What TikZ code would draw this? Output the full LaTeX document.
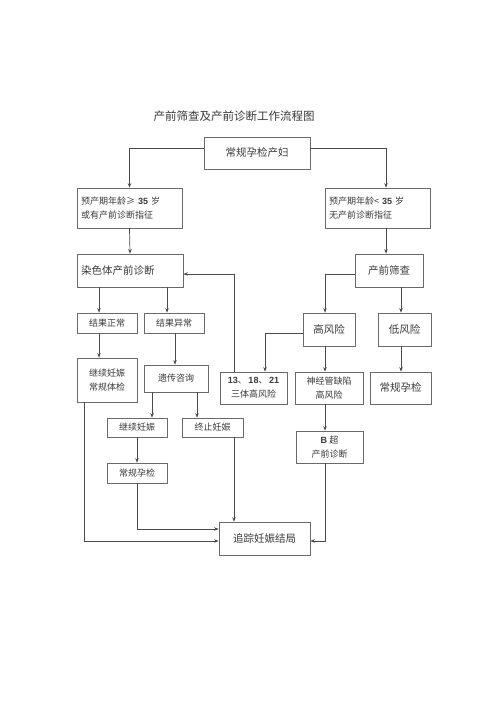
\documentclass[tikz,border=0pt]{standalone}
\usepackage{fontspec}
\setmainfont{Noto Sans CJK SC}
\newfontfamily\lat{Liberation Sans}
\usetikzlibrary{arrows.meta}
\definecolor{lc}{HTML}{4A4A4A}
\definecolor{bc}{HTML}{6A6A6A}
\definecolor{tc}{HTML}{3A3A3A}
\newcommand{\dg}[1]{{\lat\bfseries #1}}
\begin{document}
\begin{tikzpicture}[x=1pt,y=-1pt,
  box/.style={draw=bc,line width=0.7pt,inner sep=0pt,text=tc,align=center,font=\fontsize{9}{14}\selectfont},
  big/.style={font=\fontsize{10.5}{14}\selectfont},
  line/.style={draw=lc,line width=0.7pt},
  arr/.style={line,-{Stealth[length=4.5pt,width=3.5pt]}}]
\useasboundingbox[fill=white] (0,0) rectangle (500,708);
\node[text=tc,font=\fontsize{11.5}{14}\selectfont] (title) at (234,116) {产前筛查及产前诊断工作流程图};
\node[box,big,minimum width=106pt,minimum height=32pt] (a) at (257,153) {常规孕检产妇};
\node[box,minimum width=105pt,minimum height=40pt,align=left,text width=97pt] (b1) at (129.5,208) {预产期年龄≥ \dg{35} 岁\\或有产前诊断指征};
\node[box,minimum width=105pt,minimum height=40pt,align=left,text width=97pt] (b2) at (377.5,208) {预产期年龄< \dg{35} 岁\\无产前诊断指征};
\node[box,minimum width=106pt,minimum height=33pt,align=left,text width=98pt,font=\fontsize{10.5}{14}\selectfont] (c1) at (130,270.5) {染色体产前诊断};
\node[box,big,minimum width=68pt,minimum height=33pt] (c2) at (389,270.5) {产前筛查};
\node[box,minimum width=60pt,minimum height=20pt] (d1) at (107,323) {结果正常};
\node[box,minimum width=60pt,minimum height=20pt] (d2) at (174,323) {结果异常};
\node[box,big,minimum width=52pt,minimum height=33pt] (d3) at (329,329.5) {高风险};
\node[box,big,minimum width=53pt,minimum height=33pt] (d4) at (404.5,329.5) {低风险};
\node[box,minimum width=60pt,minimum height=44pt] (e1) at (107,380) {继续妊娠\\常规体检};
\node[box,minimum width=64pt,minimum height=27pt] (e2) at (176,378.5) {遗传咨询};
\node[box,minimum width=67pt,minimum height=32pt] (e3) at (253.5,388) {\dg{13}、\,\dg{18}、\,\dg{21}\\三体高风险};
\node[box,minimum width=68pt,minimum height=32pt] (e4) at (329,388) {神经管缺陷\\高风险};
\node[box,big,minimum width=61pt,minimum height=32pt] (e5) at (400.5,388) {常规孕检};
\node[box,minimum width=60pt,minimum height=19pt] (f1) at (137,427.5) {继续妊娠};
\node[box,minimum width=61pt,minimum height=19pt] (f2) at (212.5,427.5) {终止妊娠};
\node[box,minimum width=67pt,minimum height=32pt] (g1) at (329.5,447) {\dg{B} 超\\产前诊断};
\node[box,minimum width=60pt,minimum height=20pt] (h1) at (137,473) {常规孕检};
\node[box,big,minimum width=91pt,minimum height=33pt] (i) at (264.5,538.5) {追踪妊娠结局};
% connectors
\draw[arr] ([yshift=5pt]a.west) -| (b1.north);
\draw[arr] ([yshift=5pt]a.east) -| ([xshift=8.5pt]b2.north);
\draw[arr] (b1.south) -- (c1.north);
\draw[arr] ([xshift=8.5pt]b2.south) -- ([xshift=8.5pt]b2.south |- c2.north);
\draw[arr] ([xshift=-8pt]d1.north |- c1.south) -- ([xshift=-8pt]d1.north);
\draw[arr] ([xshift=-7pt]d2.north |- c1.south) -- ([xshift=-7pt]d2.north);
\draw[arr] ([xshift=-8pt]d1.south) -- ([xshift=-8pt]d1.south |- e1.north);
\draw[arr] ([xshift=1pt]d2.south) -- ([xshift=1pt]d2.south |- e2.north);
\draw[arr] ([xshift=-19.5pt]e3.north) |- ([yshift=-3.5pt]c1.east);
\draw[arr] ([yshift=-3.5pt]c2.west) -| ([xshift=-4pt]d3.north);
\draw[arr] ([xshift=-3.5pt]d4.north |- c2.south) -- ([xshift=-3.5pt]d4.north);
\draw[arr] ([yshift=-3.5pt]d3.west) -| ([xshift=11.5pt]e3.north);
\draw[arr] ([xshift=-4pt]d3.south) -- ([xshift=-4pt]d3.south |- e4.north);
\draw[arr] ([xshift=-3.5pt]d4.south) -- ([xshift=-3.5pt]d4.south |- e5.north);
\draw[arr] ([xshift=-24pt]e2.south) -- ([xshift=-24pt]e2.south |- f1.north);
\draw[arr] ([xshift=21pt]e2.south) -- ([xshift=21pt]e2.south |- f2.north);
\draw[arr] ([xshift=-4pt]e4.south) -- ([xshift=-4pt]e4.south |- g1.north);
\draw[arr] (f1.south) -- (h1.north);
\draw[arr] ([xshift=21.5pt]f2.south) -- ([xshift=21.5pt]f2.south |- i.north);
\draw[arr] (h1.south) |- ([yshift=9.5pt]i.west);
\draw[arr] ([xshift=-23pt]e1.south) |- ([yshift=-2.5pt]i.west);
\draw[arr] ([xshift=-4.5pt]g1.south) |- ([yshift=-2.5pt]i.east);
\end{tikzpicture}
\end{document}
